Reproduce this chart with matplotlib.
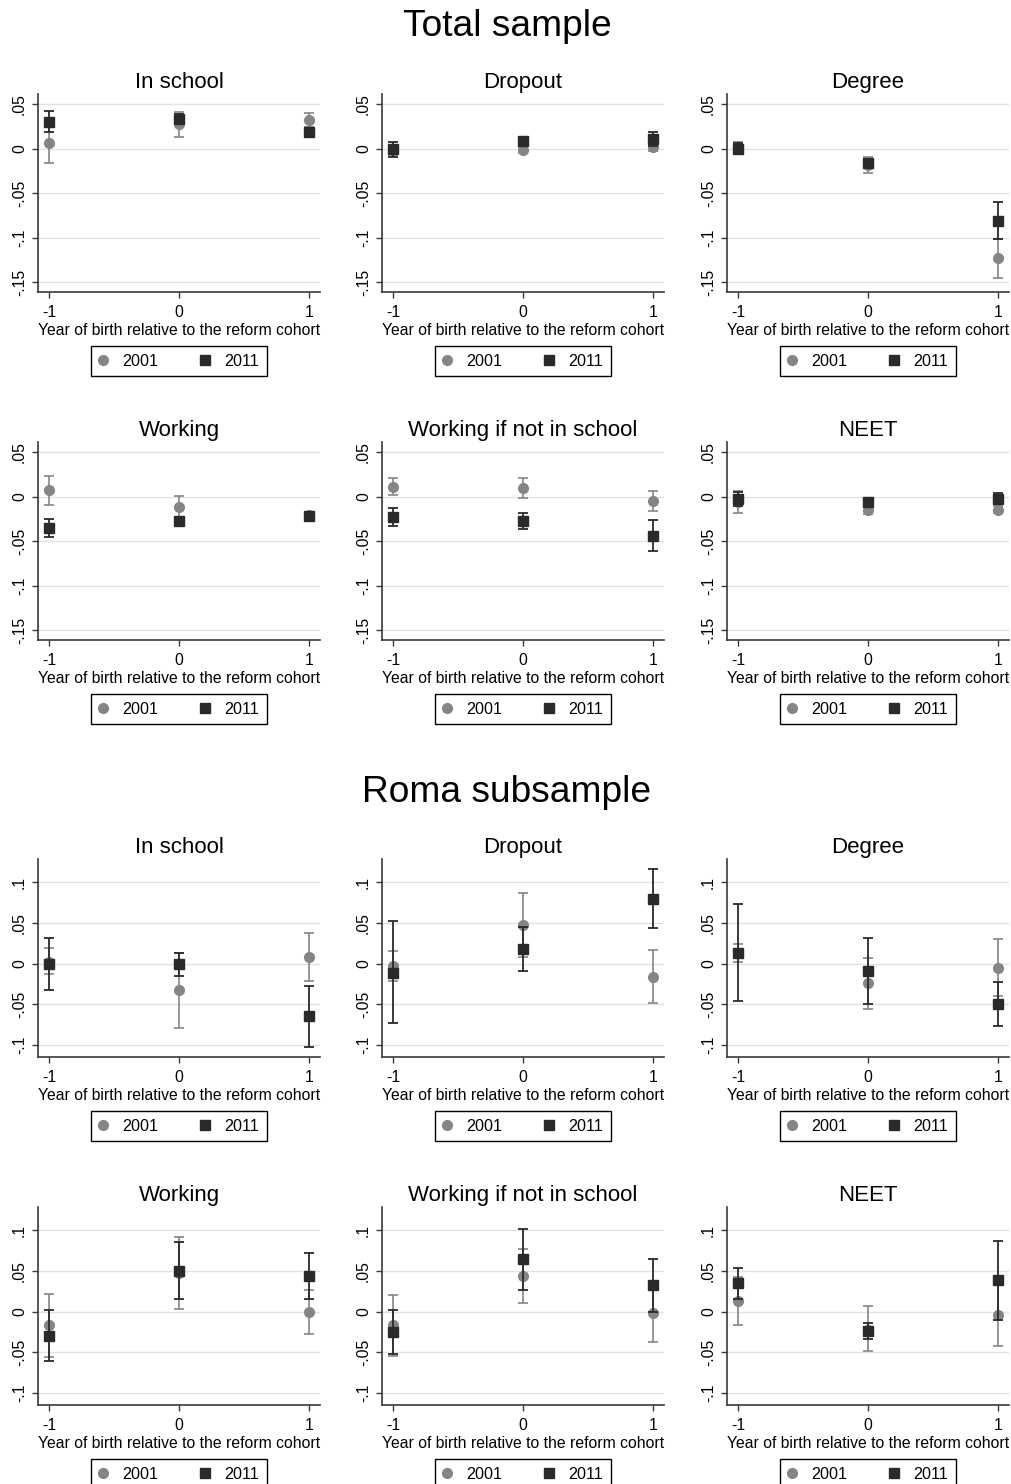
import numpy as np
import matplotlib.pyplot as plt
from matplotlib.lines import Line2D

plt.rcParams['font.family'] = ['Liberation Sans', 'DejaVu Sans']

cohort = [-1, 0, 1]
outcomes = ["In school", "Dropout", "Degree",
            "Working", "Working if not in school", "NEET"]
years = ["2001", "2011"]

# point estimates and 95% CI bounds, one row per outcome, one column per cohort
total_2001_est = [[0.006, 0.027, 0.032], [-0.0015, -0.0015, 0.0015], [0.0015, -0.019, -0.123],
                  [0.007, -0.012, -0.021], [0.011, 0.0095, -0.005], [-0.006, -0.015, -0.015]]
total_2001_lo = [[-0.0165, 0.0125, 0.024], [-0.0075, -0.0045, -0.0025], [-0.0045, -0.028, -0.145],
                 [-0.010, -0.025, -0.025], [0.0015, -0.002, -0.0165], [-0.018, -0.020, -0.019]]
total_2001_hi = [[0.028, 0.041, 0.040], [0.0045, 0.0015, 0.0055], [0.0075, -0.010, -0.101],
                 [0.0235, 0.0005, -0.017], [0.0205, 0.021, 0.0057], [0.006, -0.010, -0.011]]

total_2011_est = [[0.030, 0.033, 0.019], [-0.001, 0.009, 0.011], [0.0, -0.016, -0.081],
                  [-0.035, -0.027, -0.022], [-0.023, -0.027, -0.044], [-0.003, -0.0065, -0.0025]]
total_2011_lo = [[0.018, 0.027, 0.015], [-0.009, 0.006, 0.003], [-0.006, -0.020, -0.101],
                 [-0.045, -0.031, -0.026], [-0.033, -0.036, -0.061], [-0.011, -0.0095, -0.0085]]
total_2011_hi = [[0.042, 0.039, 0.023], [0.007, 0.012, 0.019], [0.006, -0.012, -0.060],
                 [-0.025, -0.023, -0.018], [-0.013, -0.019, -0.026], [0.005, -0.0035, 0.0035]]

roma_2001_est = [[0.0025, -0.033, 0.0085], [-0.003, 0.0475, -0.016], [0.013, -0.0245, -0.005],
                 [-0.017, 0.0475, -0.001], [-0.017, 0.0435, -0.0015], [0.0135, -0.0225, -0.004]]
roma_2001_lo = [[-0.013, -0.0795, -0.021], [-0.022, 0.0085, -0.049], [0.0015, -0.0555, -0.040],
                [-0.0555, 0.003, -0.027], [-0.054, 0.011, -0.037], [-0.016, -0.049, -0.042]]
roma_2001_hi = [[0.019, 0.0135, 0.038], [0.016, 0.087, 0.017], [0.0235, 0.0065, 0.030],
                [0.0215, 0.092, 0.026], [0.020, 0.077, 0.034], [0.043, 0.0065, 0.034]]

roma_2011_est = [[-0.001, -0.001, -0.065], [-0.012, 0.018, 0.0795], [0.0135, -0.0095, -0.0495],
                 [-0.030, 0.050, 0.0435], [-0.025, 0.064, 0.032], [0.0345, -0.024, 0.0385]]
roma_2011_lo = [[-0.032, -0.015, -0.102], [-0.073, -0.009, 0.0435], [-0.0455, -0.0495, -0.077],
                [-0.061, 0.015, 0.016], [-0.052, 0.027, -0.001], [0.016, -0.034, -0.010]]
roma_2011_hi = [[0.031, 0.0135, -0.027], [0.052, 0.045, 0.116], [0.073, 0.031, -0.023],
                [0.0015, 0.0855, 0.0715], [0.0025, 0.101, 0.065], [0.053, -0.014, 0.087]]

total_yticks = [-0.15, -0.1, -0.05, 0, 0.05]
total_yticklabels = ["-.15", "-.1", "-.05", "0", ".05"]
roma_yticks = [-0.1, -0.05, 0, 0.05, 0.1]
roma_yticklabels = ["-.1", "-.05", "0", ".05", ".1"]

# layout in pixels
W, H = 1012, 1484
col_left = [38, 382, 727]
ax_w = 282
row_top = [94, 442, 859, 1207]
ax_h = 198

c01 = '#858585'
c11 = '#2a2a2a'
fs = 11.3


def panel(ax, title, e1, l1, h1, e2, l2, h2, ylim, yticks, yticklabels):
    e1, l1, h1 = map(np.array, (e1, l1, h1))
    e2, l2, h2 = map(np.array, (e2, l2, h2))
    ax.errorbar(cohort, e1, yerr=[e1 - l1, h1 - e1], fmt='o', color=c01, ecolor=c01,
                ms=7, capsize=3.6, elinewidth=1.2, capthick=1.2, zorder=3)
    ax.errorbar(cohort, e2, yerr=[e2 - l2, h2 - e2], fmt='s', color=c11, ecolor=c11,
                ms=7.5, capsize=3.6, elinewidth=1.3, capthick=1.3, zorder=4)
    ax.set_xlim(-1.085, 1.085)
    ax.set_ylim(*ylim)
    ax.set_xticks(cohort)
    ax.set_xticklabels(["-1", "0", "1"])
    ax.set_yticks(yticks)
    ax.set_yticklabels(yticklabels, rotation=90, va='center')
    ax.yaxis.grid(True, color='#e2e2e2', lw=1)
    ax.set_axisbelow(True)
    for s in ['top', 'right']:
        ax.spines[s].set_visible(False)
    for s in ['left', 'bottom']:
        ax.spines[s].set_color('#3a3a3a')
        ax.spines[s].set_linewidth(1.2)
    ax.tick_params(direction='out', length=4, width=1, color='#3a3a3a', labelsize=fs, pad=4)
    ax.tick_params(axis='x', pad=5.5)
    ax.set_title(title, fontsize=16, pad=4)
    ax.set_xlabel("Year of birth relative to the reform cohort", fontsize=fs, labelpad=2)
    handles = [Line2D([], [], marker='o', color=c01, ls='none', ms=7),
               Line2D([], [], marker='s', color=c11, ls='none', ms=7)]
    leg = ax.legend(handles, years, loc='upper center', bbox_to_anchor=(0.5, -0.275), ncol=2,
                    frameon=True, fancybox=False, edgecolor='black', framealpha=1, fontsize=11.6,
                    handlelength=0.5, handletextpad=1.0, columnspacing=2.6, borderpad=0.45,
                    borderaxespad=0)
    leg.get_frame().set_linewidth(1.0)


fig = plt.figure(figsize=(W / 100, H / 100), dpi=100)

samples = [
    (total_2001_est, total_2001_lo, total_2001_hi, total_2011_est, total_2011_lo, total_2011_hi,
     (-0.161, 0.0612), total_yticks, total_yticklabels),
    (roma_2001_est, roma_2001_lo, roma_2001_hi, roma_2011_est, roma_2011_lo, roma_2011_hi,
     (-0.1148, 0.1284), roma_yticks, roma_yticklabels),
]

for si, (e1, l1, h1, e2, l2, h2, ylim, yt, ytl) in enumerate(samples):
    for k, name in enumerate(outcomes):
        r = si * 2 + k // 3
        c = k % 3
        ax = fig.add_axes([col_left[c] / W, 1 - (row_top[r] + ax_h) / H, ax_w / W, ax_h / H])
        panel(ax, name, e1[k], l1[k], h1[k], e2[k], l2[k], h2[k], ylim, yt, ytl)

fig.text(507 / W, 1 - 27 / H, "Total sample", ha='center', va='center', fontsize=26.7)
fig.text(507 / W, 1 - 792 / H, "Roma subsample", ha='center', va='center', fontsize=26.7)

fig.savefig("out.png", dpi=100, facecolor='white')
